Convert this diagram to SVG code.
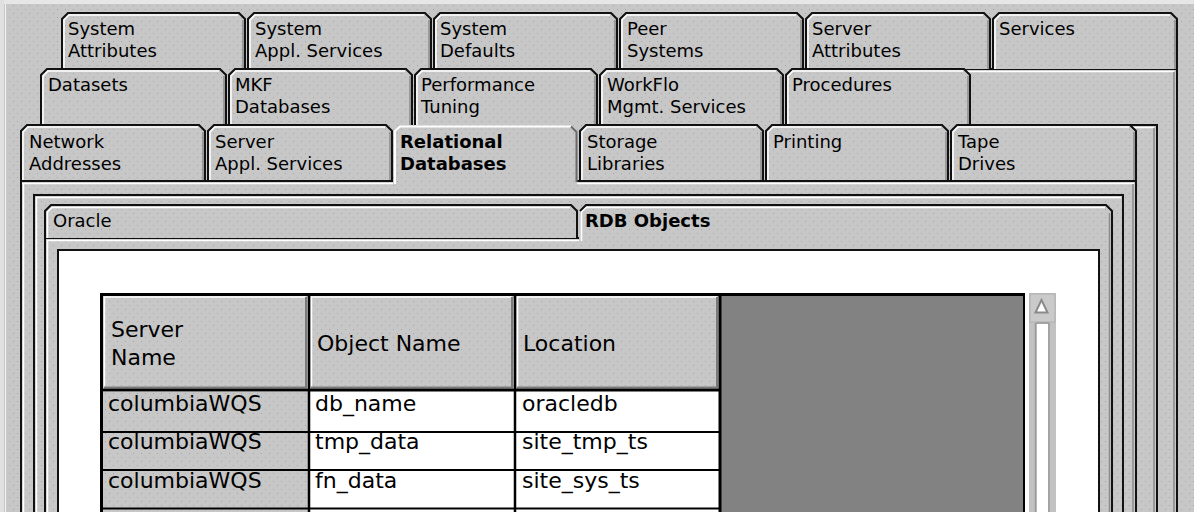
<svg xmlns="http://www.w3.org/2000/svg" width="1194" height="512" viewBox="0 0 1194 512">
<defs>
<pattern id="st" width="8" height="8" patternUnits="userSpaceOnUse">
<rect width="8" height="8" fill="#c7c7c7"/>
<rect x="1" y="1" width="1" height="1" fill="#a6a6a6"/>
<rect x="5" y="5" width="1" height="1" fill="#a6a6a6"/>
</pattern>
<style>
.tab{fill:url(#st);stroke:#111;stroke-width:2}
.hl{fill:none;stroke:#fff;stroke-width:1.5}
.sh{fill:none;stroke:#8a8a8a;stroke-width:1.5}
.dk{fill:none;stroke:#111;stroke-width:2}
.bk{fill:none;stroke:#000;stroke-width:3}
.t{font-family:"DejaVu Sans",sans-serif;font-size:18px;fill:#000}
.b{font-weight:bold}
.c{font-family:"DejaVu Sans",sans-serif;font-size:22px;fill:#000}
</style>
</defs>
<rect width="1194" height="512" fill="url(#st)"/>
<rect x="0" y="0" width="1194" height="4" fill="#e6e6e6"/>
<rect x="0" y="0" width="4" height="512" fill="#e0e0e0"/>
<path d="M5.5 4V512" stroke="#f2f2f2" stroke-width="1"/>

<!-- layer 1 panel edges -->
<g id="layer1">
<path class="dk" d="M960 69H1177V512"/>
<path class="hl" d="M962 71.5H1174"/>
<path class="sh" d="M1174 72V512"/>
</g>

<!-- row 1 tabs -->
<g id="tab-system-attributes">
<path class="tab" d="M62 69V19L68 13H239L245 19V69"/><path class="hl" d="M64 69V20L69 15H238"/><path class="sh" d="M243 20V69"/>
<text class="t" x="68" y="35">System</text><text class="t" x="68" y="57">Attributes</text>
</g>
<g id="tab-system-appl-services">
<path class="tab" d="M248 69V19L254 13H425L431 19V69"/><path class="hl" d="M250 69V20L255 15H424"/><path class="sh" d="M429 20V69"/>
<text class="t" x="255" y="35">System</text><text class="t" x="255" y="57">Appl. Services</text>
</g>
<g id="tab-system-defaults">
<path class="tab" d="M434 69V19L440 13H611L617 19V69"/><path class="hl" d="M436 69V20L441 15H610"/><path class="sh" d="M615 20V69"/>
<text class="t" x="440" y="35">System</text><text class="t" x="440" y="57">Defaults</text>
</g>
<g id="tab-peer-systems">
<path class="tab" d="M620 69V19L626 13H797L803 19V69"/><path class="hl" d="M622 69V20L627 15H796"/><path class="sh" d="M801 20V69"/>
<text class="t" x="627" y="35">Peer</text><text class="t" x="627" y="57">Systems</text>
</g>
<g id="tab-server-attributes">
<path class="tab" d="M806 69V19L812 13H984L990 19V69"/><path class="hl" d="M808 69V20L813 15H983"/><path class="sh" d="M988 20V69"/>
<text class="t" x="812" y="35">Server</text><text class="t" x="812" y="57">Attributes</text>
</g>
<g id="tab-services">
<path class="tab" d="M993 69V19L999 13H1171L1177 19V69"/><path class="hl" d="M995 69V20L1000 15H1170"/><path class="sh" d="M1175 20V69"/>
<text class="t" x="999" y="35">Services</text>
</g>

<!-- layer 2 panel edges -->
<g id="layer2">
<path class="dk" d="M1120 125H1157V512"/>
<path class="hl" d="M1122 127.5H1154"/>
<path class="sh" d="M1154 128V512"/>
</g>

<!-- row 2 tabs -->
<g id="tab-datasets">
<path class="tab" d="M41 125V75L47 69H220L226 75V125"/><path class="hl" d="M43 125V76L48 71H219"/><path class="sh" d="M224 76V125"/>
<text class="t" x="48" y="91">Datasets</text>
</g>
<g id="tab-mkf-databases">
<path class="tab" d="M229 125V75L235 69H406L412 75V125"/><path class="hl" d="M231 125V76L236 71H405"/><path class="sh" d="M410 76V125"/>
<text class="t" x="235" y="91">MKF</text><text class="t" x="235" y="113">Databases</text>
</g>
<g id="tab-performance-tuning">
<path class="tab" d="M415 125V75L421 69H591L597 75V125"/><path class="hl" d="M417 125V76L422 71H590"/><path class="sh" d="M595 76V125"/>
<text class="t" x="421" y="91">Performance</text><text class="t" x="421" y="113">Tuning</text>
</g>
<g id="tab-workflo">
<path class="tab" d="M600 125V75L606 69H777L783 75V125"/><path class="hl" d="M602 125V76L607 71H776"/><path class="sh" d="M781 76V125"/>
<text class="t" x="607" y="91">WorkFlo</text><text class="t" x="607" y="113">Mgmt. Services</text>
</g>
<g id="tab-procedures">
<path class="tab" d="M786 125V75L792 69H964L970 75V125"/><path class="hl" d="M788 125V76L793 71H963"/><path class="sh" d="M968 76V125"/>
<text class="t" x="792" y="91">Procedures</text>
</g>

<!-- row 3 tabs -->
<g id="tab-network-addresses">
<path class="tab" d="M21 182V131L27 125H199L205 131V182"/><path class="hl" d="M23 182V132L28 127H198"/><path class="sh" d="M203 132V182"/>
<text class="t" x="29" y="148">Network</text><text class="t" x="29" y="170">Addresses</text>
</g>
<g id="tab-server-appl-services">
<path class="tab" d="M208 182V131L214 125H386L392 131V182"/><path class="hl" d="M210 182V132L215 127H385"/><path class="sh" d="M390 132V182"/>
<text class="t" x="215" y="148">Server</text><text class="t" x="215" y="170">Appl. Services</text>
</g>
<g id="tab-storage-libraries">
<path class="tab" d="M580 182V131L586 125H757L763 131V182"/><path class="hl" d="M582 182V132L587 127H756"/><path class="sh" d="M761 132V182"/>
<text class="t" x="587" y="148">Storage</text><text class="t" x="587" y="170">Libraries</text>
</g>
<g id="tab-printing">
<path class="tab" d="M766 182V131L772 125H942L948 131V182"/><path class="hl" d="M768 182V132L773 127H941"/><path class="sh" d="M946 132V182"/>
<text class="t" x="773" y="148">Printing</text>
</g>
<g id="tab-tape-drives">
<path class="tab" d="M951 182V131L957 125H1130L1136 131V182"/><path class="hl" d="M953 182V132L958 127H1129"/><path class="sh" d="M1134 132V182"/>
<text class="t" x="958" y="148">Tape</text><text class="t" x="958" y="170">Drives</text>
</g>

<!-- front panel -->
<g id="panel-front">
<path class="dk" d="M20 181H1137"/>
<path class="hl" d="M22 183.5H1134"/>
<path class="dk" d="M21 180V512"/>
<path class="hl" d="M23.5 183V512"/>
<path class="dk" d="M1136 180V512"/>
<path class="sh" d="M1133 184V512"/>
</g>

<g id="tab-relational-databases">
<polygon points="393,186 393,131 399,125 571,125 577,131 577,186" fill="url(#st)"/>
<path d="M395 184V131L400 126.5H571" fill="none" stroke="#fff" stroke-width="2"/>
<path d="M571 126.5L576.5 132V182" fill="none" stroke="#6a6a6a" stroke-width="2"/>
<text class="t b" x="400" y="148">Relational</text><text class="t b" x="400" y="170">Databases</text>
</g>

<!-- inner etched frame -->
<g id="frame-inner">
<path class="dk" d="M34 512V195H1123V512"/>
<path class="hl" d="M36.5 512V197.5H1121"/>
</g>

<!-- RDB sub panel -->
<g id="panel-rdb">
<path class="dk" d="M45 512V238H579"/>
<path class="hl" d="M47.5 512V240.5H581"/>
<path class="dk" d="M1112 212V512"/>
<path class="sh" d="M1109.5 214V512"/>
</g>
<g id="tab-oracle">
<path class="tab" d="M45 238V211L51 205H571L577 211V238"/><path class="hl" d="M47.5 238V212L52 207.5H570"/>
<text class="t" x="53" y="227">Oracle</text>
</g>
<g id="tab-rdb-objects">
<polygon points="579,243 579,211 585,205 1106,205 1112,211 1112,243" fill="url(#st)"/>
<path class="dk" d="M580 211L586 205H1106L1112 211V243"/>
<path d="M581.5 241V212L586.5 207.5H1105" fill="none" stroke="#fff" stroke-width="1.5"/>
<path class="sh" d="M1109.5 213V243"/>
<text class="t b" x="585" y="227">RDB Objects</text>
</g>

<!-- white content area -->
<g id="content">
<rect x="58" y="251" width="1040" height="270" fill="#fff"/>
<path class="dk" d="M58 512V250H1099V512"/>
</g>

<!-- table -->
<g id="table">
<rect x="103" y="392" width="206" height="130" fill="url(#st)"/>
<rect x="309" y="392" width="411" height="130" fill="#fff"/>
<rect x="721" y="295" width="302" height="230" fill="#828282"/>
<g id="hdr-server-name">
<rect x="103" y="296" width="205" height="92" fill="url(#st)"/>
<path class="hl" d="M104.5 387V297H306" stroke-width="2"/>
<path d="M306 297V387.5H104" fill="none" stroke="#7a7a7a" stroke-width="2"/>
<text class="c" x="111" y="337">Server</text><text class="c" x="111" y="365">Name</text>
</g>
<g id="hdr-object-name">
<rect x="310" y="296" width="205" height="92" fill="url(#st)"/>
<path class="hl" d="M311.5 387V297H512" stroke-width="2"/>
<path d="M512 297V387.5H311" fill="none" stroke="#7a7a7a" stroke-width="2"/>
<text class="c" x="317" y="351">Object Name</text>
</g>
<g id="hdr-location">
<rect x="516" y="296" width="204" height="92" fill="url(#st)"/>
<path class="hl" d="M517.5 387V297H717" stroke-width="2"/>
<path d="M717 297V387.5H517" fill="none" stroke="#7a7a7a" stroke-width="2"/>
<text class="c" x="523" y="351">Location</text>
</g>
<path class="bk" d="M101.5 512V294.5H1024"/>
<path d="M1024 293V512" stroke="#000" stroke-width="2"/>
<path class="bk" d="M100 390H721"/>
<path d="M309 296V512M515 296V512" stroke="#000" stroke-width="2.5"/>
<path class="bk" d="M720 296V512"/>
<path d="M100 432H720M100 470H720M100 508.5H720" stroke="#000" stroke-width="2"/>
<text class="c" x="108" y="411">columbiaWQS</text>
<text class="c" x="315" y="411">db_name</text>
<text class="c" x="522" y="411">oracledb</text>
<text class="c" x="108" y="449">columbiaWQS</text>
<text class="c" x="315" y="449">tmp_data</text>
<text class="c" x="522" y="449">site_tmp_ts</text>
<text class="c" x="108" y="488">columbiaWQS</text>
<text class="c" x="315" y="488">fn_data</text>
<text class="c" x="522" y="488">site_sys_ts</text>
</g>

<!-- scrollbar -->
<g id="scrollbar">
<rect x="1029" y="293" width="27" height="230" fill="#c2c2c2"/>
<rect x="1030" y="294" width="25" height="28" fill="#cacaca" stroke="#b0b0b0" stroke-width="1"/>
<polygon points="1041.5,300 1035.5,312.5 1047.5,312.5" fill="#fff" stroke="#8a8a8a" stroke-width="2"/>
<rect x="1037" y="324" width="11" height="200" fill="#fff"/>
<path d="M1036 323H1049M1035.5 323V512M1049 323V512" stroke="#9a9a9a" stroke-width="1.5" fill="none"/>
</g>
</svg>
